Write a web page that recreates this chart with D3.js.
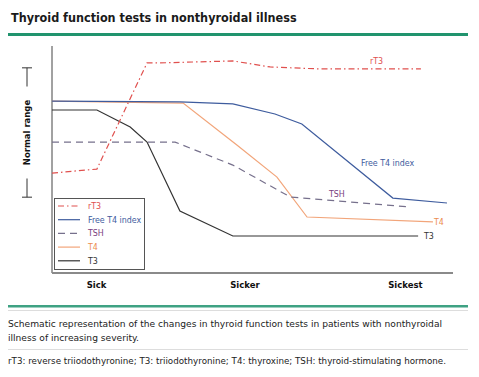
<!DOCTYPE html>
<html>
<head>
<meta charset="utf-8">
<script src="https://cdn.jsdelivr.net/npm/d3@7"></script>
<style>
  body { margin: 0; background: #fff; }
  svg { display: block; font-family: "DejaVu Sans", Verdana, sans-serif; }
</style>
</head>
<body>
<svg id="chart" width="479" height="377"></svg>
<script>
// ── Data (severity 0–100 on x, arbitrary level 0–100 on y) ───────────────────
const severityTicks = [11, 48, 88];
const severityLabels = ['Sick', 'Sicker', 'Sickest'];
const normalRange = [34, 92];

const rT3      = [[0, 44.8], [11.2, 46.6], [23.7, 94.2], [26.9, 94.2], [45.1, 95.1], [54.4, 92.4], [66.8, 91.5], [92.0, 91.5]];
const freeT4   = [[0, 77.1], [31.9, 76.7], [45.1, 75.8], [55.6, 71.3], [62.3, 66.8], [85.0, 33.6], [98.5, 31.4]];
const tsh      = [[0, 58.7], [30.7, 58.7], [45.1, 48.4], [59.4, 34.1], [89.3, 29.6]];
const t4       = [[0, 77.1], [32.7, 76.2], [46.1, 57.4], [56.1, 43.0], [63.6, 25.1], [95.0, 22.9]];
const t3       = [[0, 73.1], [11.2, 73.1], [19.5, 65.5], [23.7, 58.7], [31.9, 27.8], [45.1, 16.6], [91.3, 16.6]];

const seriesNames = ['rT3', 'Free T4 index', 'TSH', 'T4', 'T3'];

// ── Styles ───────────────────────────────────────────────────────────────────
const SERIES = [
    { name: 'rT3',           data: rT3,    color: '#e0504e', text: '#e0504e', dash: '6,3,1.5,3', lbl: [370, 64] },
    { name: 'Free T4 index', data: freeT4, color: '#3e5c9e', text: '#3e5c9e', dash: null,        lbl: [361, 166] },
    { name: 'TSH',           data: tsh,    color: '#76708c', text: '#7a4080', dash: '7,5',       lbl: [329, 197] },
    { name: 'T4',            data: t4,     color: '#f2a57a', text: '#ec8c50', dash: null,        lbl: [434, 225] },
    { name: 'T3',            data: t3,     color: '#333333', text: '#333333', dash: null,        lbl: [424, 239] },
];
const LABEL_FONT = '"DejaVu Sans Condensed", "Liberation Sans Narrow", "DejaVu Sans", sans-serif';

const svg = d3.select('#chart');

// Title
svg.append('text').attr('x', 11).attr('y', 22)
    .attr('font-size', 12.5).attr('font-weight', 'bold').attr('fill', '#1a1a1a')
    .attr('font-family', 'Tahoma, "DejaVu Sans Condensed", "DejaVu Sans", sans-serif')
    .text('Thyroid function tests in nonthyroidal illness');
svg.append('rect').attr('x', 8).attr('y', 33).attr('width', 460).attr('height', 3).attr('fill', '#21946e');

// Scales
const x = d3.scaleLinear().domain([0, 100]).range([52, 453]);
const y = d3.scaleLinear().domain([0, 100]).range([273, 50]);

// Axes (plain lines, no ticks)
svg.append('line').attr('x1', 52).attr('x2', 52).attr('y1', 46).attr('y2', 273)
    .attr('stroke', '#444').attr('stroke-width', 1);
svg.append('line').attr('x1', 52).attr('x2', 453).attr('y1', 273).attr('y2', 273)
    .attr('stroke', '#8a8a8a').attr('stroke-width', 2);

const xAxis = d3.axisBottom(x).tickValues(severityTicks)
    .tickFormat((d, i) => severityLabels[i]).tickSize(0).tickPadding(0);
const gx = svg.append('g').attr('transform', 'translate(0,282)').call(xAxis);
gx.select('.domain').remove();
gx.selectAll('text').attr('font-size', 8.5).attr('font-weight', 'bold').attr('fill', '#111')
    .attr('font-family', '"DejaVu Sans", Verdana, sans-serif');

// Normal range bracket
const bx = 27;
const [nLo, nHi] = [y(normalRange[0]), y(normalRange[1])];
const mid = (nLo + nHi) / 2;
const br = svg.append('g').attr('stroke', '#333').attr('stroke-width', 1);
br.append('line').attr('x1', bx - 5).attr('x2', bx + 5).attr('y1', nHi).attr('y2', nHi);
br.append('line').attr('x1', bx - 5).attr('x2', bx + 5).attr('y1', nLo).attr('y2', nLo);
br.append('line').attr('x1', bx).attr('x2', bx).attr('y1', nHi).attr('y2', mid - 46);
br.append('line').attr('x1', bx).attr('x2', bx).attr('y1', mid + 46).attr('y2', nLo);
svg.append('text').attr('transform', `translate(${bx + 3},${mid}) rotate(-90)`)
    .attr('text-anchor', 'middle').attr('font-size', 8.5).attr('font-weight', 'bold').attr('fill', '#111')
    .text('Normal range');

// Lines
const line = d3.line().x(d => x(d[0])).y(d => y(d[1]));
const lines = svg.append('g');
SERIES.slice().reverse().forEach(s => {
    lines.append('path').datum(s.data)
        .attr('d', line).attr('fill', 'none')
        .attr('stroke', s.color).attr('stroke-width', 1.2)
        .attr('stroke-dasharray', s.dash);
});

// Line labels
SERIES.forEach(s => {
    svg.append('text').attr('x', s.lbl[0]).attr('y', s.lbl[1])
        .attr('font-size', 8.8).attr('font-family', LABEL_FONT)
        .attr('fill', s.text).text(s.name);
});

// Legend
const lg = svg.append('g');
lg.append('rect').attr('x', 54.5).attr('y', 198.5).attr('width', 90).attr('height', 71)
    .attr('fill', '#fff').attr('stroke', '#555').attr('stroke-width', 1);
SERIES.forEach((s, i) => {
    const yy = 206 + i * 13.7;
    lg.append('line').attr('x1', 58).attr('x2', 80).attr('y1', yy).attr('y2', yy)
        .attr('stroke', s.color).attr('stroke-width', 1.2).attr('stroke-dasharray', s.dash);
    lg.append('text').attr('x', 88).attr('y', yy + 3).attr('font-size', 8.8)
        .attr('font-family', LABEL_FONT)
        .attr('fill', s.text).text(seriesNames[i]);
});

// Caption
svg.append('rect').attr('x', 8).attr('y', 305).attr('width', 460).attr('height', 2.5).attr('fill', '#3fa283');
svg.append('line').attr('x1', 8).attr('x2', 468).attr('y1', 310.5).attr('y2', 310.5).attr('stroke', '#ddd');
svg.append('line').attr('x1', 8).attr('x2', 468).attr('y1', 349.5).attr('y2', 349.5).attr('stroke', '#ddd');
const cap = svg.append('g').attr('font-size', 9).attr('fill', '#222')
    .attr('font-family', 'Tahoma, "DejaVu Sans", sans-serif');
cap.append('text').attr('x', 8).attr('y', 327)
    .attr('textLength', 434).attr('lengthAdjust', 'spacingAndGlyphs')
    .text('Schematic representation of the changes in thyroid function tests in patients with nonthyroidal');
cap.append('text').attr('x', 8).attr('y', 341)
    .attr('textLength', 131).attr('lengthAdjust', 'spacingAndGlyphs')
    .text('illness of increasing severity.');
cap.append('text').attr('x', 8).attr('y', 364)
    .attr('textLength', 438).attr('lengthAdjust', 'spacingAndGlyphs')
    .text('rT3: reverse triiodothyronine; T3: triiodothyronine; T4: thyroxine; TSH: thyroid-stimulating hormone.');
</script>
</body>
</html>
